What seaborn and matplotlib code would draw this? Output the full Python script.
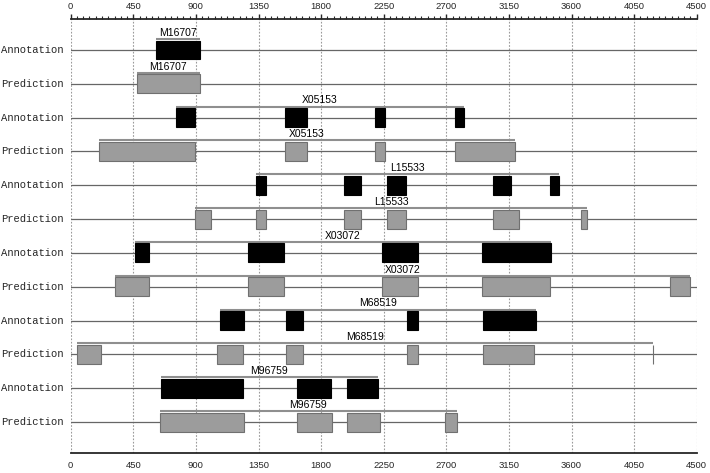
import matplotlib
matplotlib.use("Agg")
import matplotlib.pyplot as plt
from matplotlib.ticker import MultipleLocator
import seaborn as sns
import pandas as pd

genes = ["M16707", "X05153", "L15533", "X03072", "M68519", "M96759"]
tracks = ["Annotation", "Prediction"]

# exon (start, end) pairs
ann_M16707 = [(615, 926)]
pred_M16707 = [(479, 926)]
ann_X05153 = [(760, 894), (1538, 1699), (2187, 2262), (2760, 2825)]
pred_X05153 = [(203, 894), (1538, 1699), (2187, 2262), (2760, 3195)]
ann_L15533 = [(1329, 1407), (1967, 2089), (2271, 2411), (3037, 3165), (3442, 3510)]
pred_L15533 = [(894, 1010), (1329, 1407), (1967, 2089), (2271, 2411), (3037, 3221), (3668, 3713)]
ann_X03072 = [(462, 566), (1278, 1535), (2235, 2500), (2959, 3451)]
pred_X03072 = [(316, 566), (1278, 1535), (2235, 2500), (2959, 3448), (4309, 4452)]
ann_M68519 = [(1070, 1243), (1547, 1672), (2420, 2500), (2962, 3344)]
pred_M68519 = [(42, 215), (1049, 1240), (1547, 1672), (2420, 2500), (2965, 3332), (4184, 4189)]
ann_M96759 = [(650, 1240), (1624, 1874), (1988, 2208)]
pred_M96759 = [(641, 1243), (1624, 1880), (1988, 2223), (2691, 2774)]

annotation = [ann_M16707, ann_X05153, ann_L15533, ann_X03072, ann_M68519, ann_M96759]
prediction = [pred_M16707, pred_X05153, pred_L15533, pred_X03072, pred_M68519, pred_M96759]

xmax = 4500
major_step = 450
minor_step = 45

rows = []
for gi, g in enumerate(genes):
    for ti, (t, exons) in enumerate(zip(tracks, [annotation[gi], prediction[gi]])):
        r = gi * 2 + ti + 1
        for s, e in exons:
            rows.append(dict(gene=g, track=t, row=r, start=s, end=e, width=e - s))
df = pd.DataFrame(rows)

sns.set_style("white")
plt.rcParams["font.family"] = ["Liberation Sans", "DejaVu Sans"]

fig = plt.figure(figsize=(7.10, 4.73), dpi=100)
ax = fig.add_axes([70.7 / 710, 1 - 452.5 / 473, 626 / 710, 433.5 / 473])

ax.set_xlim(0, xmax)
ax.set_ylim(12.9, 0.083)

# vertical grid
for gx in range(0, xmax + 1, major_step):
    ax.axvline(gx, color="#9a9a9a", lw=0.8, ls=(0, (1.5, 1.5)), zorder=0)

bar_h = 0.56
for r in range(1, 13):
    ax.plot([0, xmax], [r, r], color="#666666", lw=0.9, zorder=1)

colors = {"Annotation": ("black", "black"), "Prediction": ("#9c9c9c", "#707070")}
for (g, t), sub in df.groupby(["gene", "track"], sort=False):
    r = sub["row"].iloc[0]
    fc, ec = colors[t]
    ax.barh(sub["row"], sub["width"], left=sub["start"], height=bar_h,
            color=fc, edgecolor=ec, linewidth=0.8, zorder=3)
    s0, e0 = sub["start"].min(), sub["end"].max()
    ax.plot([s0, e0], [r - 0.325, r - 0.325], color="#8f8f8f", lw=1.5, zorder=2,
            solid_capstyle="butt")
    ax.text((s0 + e0) / 2, r - 0.36, g, ha="center", va="bottom", fontsize=7.5,
            color="black", zorder=4)

# row labels
for r in range(1, 13):
    t = tracks[(r - 1) % 2]
    ax.annotate(t, xy=(0, r), xycoords=("figure pixels", "data"),
                xytext=(1, 0), textcoords="offset pixels",
                ha="left", va="center", fontsize=7.6,
                family=["Liberation Mono", "DejaVu Sans Mono"])

ax.set_yticks([])
for side in ["left", "right"]:
    ax.spines[side].set_visible(False)
ax.spines["bottom"].set_linewidth(1.3)
ax.spines["top"].set_visible(False)

ax.xaxis.set_major_locator(MultipleLocator(major_step))
ax.xaxis.set_minor_locator(MultipleLocator(minor_step))
ax.tick_params(axis="x", which="major", direction="in", length=3.5, width=1.0,
               labelsize=6.8, pad=6)
ax.tick_params(axis="x", which="minor", direction="in", length=2.2, width=0.8)

top = ax.secondary_xaxis("top")
top.spines["top"].set_linewidth(1.3)
top.xaxis.set_major_locator(MultipleLocator(major_step))
top.xaxis.set_minor_locator(MultipleLocator(minor_step))
top.tick_params(axis="x", which="major", direction="out", length=3.5, width=1.0,
                labelsize=6.8, pad=2.5)
top.tick_params(axis="x", which="minor", direction="out", length=2.2, width=0.8)

fig.savefig("out.png", dpi=100)
